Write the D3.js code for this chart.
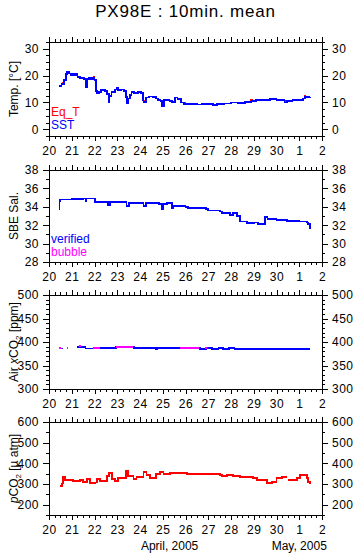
<!DOCTYPE html>
<html>
<head>
<meta charset="utf-8">
<script src="https://cdn.jsdelivr.net/npm/d3@7"></script>
<style>
body { margin: 0; background: #fff; }
text { font-family: "Liberation Sans", Arial, sans-serif; }
</style>
</head>
<body>
<div id="wrapper"></div>
<script>
// all times are days since 2005-04-20 00:00
const startDate = new Date(2005, 3, 20)
const endDate = new Date(2005, 4, 2)
const titleText = 'PX98E : 10min. mean'

const sst = [[0.44,16.0],[0.55,17.0],[0.65,18.5],[0.75,20.5],[0.80,21.4],[0.88,20.8],[0.95,20.2],[1.02,20.6],[1.10,20.2],[1.20,20.5],
  [1.25,19.5],[1.35,19.0],[1.45,19.2],[1.55,18.8],[1.62,17.5],[1.63,15.8],[1.66,18.8],[1.75,19.0],[1.85,18.6],[1.95,19.2],
  [2.00,18.5],[2.05,14.2],[2.10,13.5],[2.20,13.8],[2.30,14.6],[2.45,14.4],[2.55,13.2],[2.62,10.2],[2.66,12.5],[2.75,14.0],
  [2.90,14.8],[2.98,15.3],[3.05,14.6],[3.15,14.8],[3.30,14.2],[3.38,12.0],[3.42,9.6],[3.47,11.5],[3.55,12.8],[3.63,13.9],
  [3.75,13.6],[3.90,14.0],[4.05,13.5],[4.12,11.0],[4.15,10.1],[4.25,11.8],[4.40,12.2],[4.55,12.0],[4.70,11.5],[4.80,11.0],
  [4.90,10.5],[4.98,8.6],[5.05,10.8],[5.15,11.0],[5.30,10.5],[5.40,10.3],[5.55,11.8],[5.65,11.2],[5.80,10.0],[5.95,9.5],
  [6.20,9.3],[6.50,9.2],[6.70,9.5],[7.00,9.3],[7.20,9.0],[7.40,9.5],[7.70,9.6],[8.00,10.0],[8.30,9.8],[8.60,10.2],
  [8.90,10.5],[9.10,11.0],[9.40,11.0],[9.70,11.2],[10.00,11.0],[10.25,10.8],[10.35,10.0],[10.45,10.6],[10.70,10.8],[11.00,11.0],
  [11.15,11.5],[11.25,12.0],[11.47,12.2]]
const eqT = [[0.55,17.3],[0.62,17.3],null,[1.60,18.0],[1.66,18.0],null,[1.95,19.5],[2.00,19.5],null,[2.60,11.0],[2.64,11.0],null,
  [3.40,10.5],[3.45,10.5],null,[4.15,10.6],[4.20,10.6],null,[4.95,9.2],[5.00,9.2],null,[5.93,9.8],[6.00,9.8],null,
  [8.85,10.8],[8.95,10.8],null,[10.33,10.4],[10.40,10.4],null,[11.20,12.3],[11.30,12.3]]

const salinity = [[0.44,33.8],[0.46,34.6],[0.50,34.8],[1.00,34.85],[1.50,34.9],[1.60,34.6],[1.65,34.9],[1.95,34.9],[2.02,34.5],[2.54,34.5],
  [2.61,34.2],[2.68,34.5],[3.27,34.5],[3.41,34.1],[3.50,34.4],[4.10,34.4],[4.15,34.1],[4.25,34.4],[4.85,34.3],[4.95,33.8],
  [5.00,34.3],[5.17,34.4],[5.39,33.9],[5.46,34.1],[6.00,34.0],[6.10,33.9],[6.90,33.8],[7.00,33.6],[7.50,33.5],[7.60,33.3],
  [7.96,33.1],[8.10,33.3],[8.25,33.0],[8.40,32.4],[8.70,32.2],[9.00,32.3],[9.20,32.1],[9.42,32.1],[9.50,32.9],[9.60,32.7],
  [10.00,32.6],[10.45,32.5],[11.00,32.4],[11.33,32.3],[11.40,32.1],[11.47,31.6]]

const airVerified = [[0.50,386],[0.56,387],null,[1.22,389],[1.55,389],[1.60,386],[1.95,386],[2.25,387],[2.90,387],[2.95,389],[3.70,389],
  [3.75,387],[4.70,387],[4.72,385],[4.75,387],[6.60,387],[6.62,385],[6.85,385],[6.90,388],[7.10,388],[7.15,385],
  [7.40,385],[7.45,387],[7.60,387],[7.65,385],[7.85,385],[7.90,387],[8.10,387],[8.15,384],[8.20,385],[11.47,385]]
const airBubble = [[0.44,388],[0.48,386],[0.52,388],null,[0.78,388],[0.84,388],null,[1.30,391],[1.36,390],null,
  [1.95,387],[2.24,387],null,[2.95,389.5],[3.70,389.5],null,[5.76,387.5],[6.60,387.5],null,[6.85,387],[6.95,387]]

const pco2 = [[0.48,289],[0.56,302],[0.63,332],[0.70,318],[0.92,320],[1.07,315],[1.29,315],[1.36,320],[1.51,310],[1.66,326],
  [1.80,305],[2.02,307],[2.10,325],[2.24,315],[2.46,315],[2.54,338],[2.65,352],[2.76,325],[2.90,315],[3.05,330],
  [3.27,330],[3.37,365],[3.49,340],[3.71,325],[3.85,335],[4.07,335],[4.15,360],[4.29,345],[4.44,330],[4.59,330],
  [4.69,350],[4.88,358],[5.03,348],[5.32,352],[5.76,352],[6.05,348],[6.93,347],[7.52,345],[7.59,338],[7.81,345],
  [8.10,340],[8.40,332],[8.98,330],[9.13,320],[9.42,318],[9.57,305],[9.79,310],[10.00,328],[10.23,335],[10.45,335],
  null,[10.52,320],[10.81,320],[10.89,330],[11.03,342],[11.18,345],[11.33,328],[11.40,310],[11.47,300]]

const width = 355
const height = 558
const frameLeft = 49
const frameRight = 322

const toDate = (d) => new Date(startDate.getTime() + d * 864e5)

const svg = d3.select('#wrapper').append('svg')
  .attr('width', width)
  .attr('height', height)
  .style('display', 'block')

svg.append('rect').attr('width', width).attr('height', height).attr('fill', '#fff')

const xScale = d3.scaleTime()
  .domain([startDate, endDate])
  .range([frameLeft, frameRight])

svg.append('text')
  .attr('x', (frameLeft + frameRight) / 2)
  .attr('y', 17)
  .attr('text-anchor', 'middle')
  .style('font-size', '17px')
  .style('letter-spacing', '0.8px')
  .text(titleText)

const panels = [
  { top: 42, bottom: 136, domain: [-2.5, 32.5], major: 10, minor: 2.5, majorFrom: 0, title: [['Temp. [°C]']],
    series: [{ data: eqT, color: '#ff0000' }, { data: sst, color: '#0000ff' }],
    legend: [['Eq_T', '#ff0000'], ['SST', '#0000ff']], legendY: 116 },
  { top: 170, bottom: 262, domain: [28, 38], major: 2, minor: 1, majorFrom: 28, title: [['SBE Sal.']],
    series: [{ data: salinity, color: '#0000ff' }],
    legend: [['verified', '#0000ff'], ['bubble', '#ff00ff']], legendY: 243 },
  { top: 295, bottom: 389, domain: [300, 500], major: 50, minor: 10, majorFrom: 300,
    title: [['Air '], ['x', 'italic'], ['CO'], ['2', 'sub'], [' [ppm]']],
    series: [{ data: airVerified, color: '#0000ff' }, { data: airBubble, color: '#ff00ff' }] },
  { top: 422, bottom: 515, domain: [150, 600], major: 100, minor: 50, majorFrom: 200,
    title: [['p', 'italic'], ['CO'], ['2', 'sub'], [' [µ atm]']],
    series: [{ data: pco2, color: '#ff0000' }] }
]

const fmtDay = d3.timeFormat('%-d')
const dayTicks = d3.timeDay.range(startDate, d3.timeDay.offset(endDate, 1))
const minorX = d3.timeHour.every(6).range(startDate, d3.timeHour.offset(endDate, 1))

function styleAxis (g) {
  g.select('.domain').remove()
  g.selectAll('line').attr('stroke', '#000').attr('shape-rendering', 'crispEdges')
  g.selectAll('text').style('font-size', '12px').style('letter-spacing', '0.5px').attr('fill', '#000')
}

panels.forEach((p) => {
  const yScale = d3.scaleLinear().domain(p.domain).range([p.bottom, p.top])
  const g = svg.append('g')

  const majorY = d3.range(p.majorFrom, p.domain[1] + 1e-6, p.major)
  const minorY = d3.range(p.domain[0], p.domain[1] + 1e-6, p.minor)

  // y axes (left and right), minor ticks first
  g.append('g').attr('transform', `translate(${frameLeft},0)`)
    .call(d3.axisLeft(yScale).tickValues(minorY).tickSize(3).tickFormat(''))
    .call(styleAxis)
  g.append('g').attr('transform', `translate(${frameLeft},0)`)
    .call(d3.axisLeft(yScale).tickValues(majorY).tickSize(6).tickPadding(4).tickFormat(d3.format('d')))
    .call(styleAxis)
  g.append('g').attr('transform', `translate(${frameRight},0)`)
    .call(d3.axisRight(yScale).tickValues(minorY).tickSize(3).tickFormat(''))
    .call(styleAxis)
  g.append('g').attr('transform', `translate(${frameRight},0)`)
    .call(d3.axisRight(yScale).tickValues(majorY).tickSize(6).tickPadding(4).tickFormat(d3.format('d')))
    .call(styleAxis)

  // x axes (top and bottom)
  g.append('g').attr('transform', `translate(0,${p.top})`)
    .call(d3.axisTop(xScale).tickValues(minorX).tickSize(3).tickFormat(''))
    .call(styleAxis)
  g.append('g').attr('transform', `translate(0,${p.top})`)
    .call(d3.axisTop(xScale).tickValues(dayTicks).tickSize(5).tickFormat(''))
    .call(styleAxis)
  g.append('g').attr('transform', `translate(0,${p.bottom})`)
    .call(d3.axisBottom(xScale).tickValues(minorX).tickSize(3).tickFormat(''))
    .call(styleAxis)
  g.append('g').attr('transform', `translate(0,${p.bottom})`)
    .call(d3.axisBottom(xScale).tickValues(dayTicks).tickSize(5).tickPadding(5).tickFormat(fmtDay))
    .call(styleAxis)

  g.append('rect')
    .attr('x', frameLeft).attr('y', p.top)
    .attr('width', frameRight - frameLeft).attr('height', p.bottom - p.top)
    .attr('fill', 'none').attr('stroke', '#000').attr('shape-rendering', 'crispEdges')

  const line = d3.line()
    .defined((d) => d !== null)
    .curve(d3.curveStepAfter)
    .x((d) => xScale(toDate(d[0])))
    .y((d) => yScale(d[1]))

  p.series.forEach((s) => {
    g.append('path')
      .attr('d', line(s.data))
      .attr('fill', 'none')
      .attr('stroke', s.color)
      .attr('stroke-width', 1.8)
      .attr('shape-rendering', 'crispEdges')
  })

  if (p.legend) {
    p.legend.forEach((l, i) => {
      g.append('text')
        .attr('x', frameLeft + 2)
        .attr('y', p.legendY + i * 13)
        .attr('fill', l[1])
        .style('font-size', '12px')
        .text(l[0])
    })
  }

  const t = g.append('text')
    .attr('transform', `translate(18,${(p.top + p.bottom) / 2}) rotate(-90)`)
    .attr('text-anchor', 'middle')
    .style('font-size', '12px')
  let afterSub = false
  p.title.forEach((part) => {
    const ts = t.append('tspan').text(part[0])
    if (part[1] === 'italic') ts.style('font-style', 'italic')
    if (part[1] === 'sub') {
      ts.style('font-size', '8px').attr('dy', 3)
      afterSub = true
    } else if (afterSub) {
      ts.attr('dy', -3)
      afterSub = false
    }
  })
})

// month labels below the last panel
svg.append('text')
  .attr('x', xScale(toDate(5.3)))
  .attr('y', 550)
  .attr('text-anchor', 'middle')
  .style('font-size', '12px')
  .text('April, 2005')
svg.append('text')
  .attr('x', xScale(toDate(11.0)))
  .attr('y', 550)
  .attr('text-anchor', 'middle')
  .style('font-size', '12px')
  .text('May, 2005')
</script>
</body>
</html>
